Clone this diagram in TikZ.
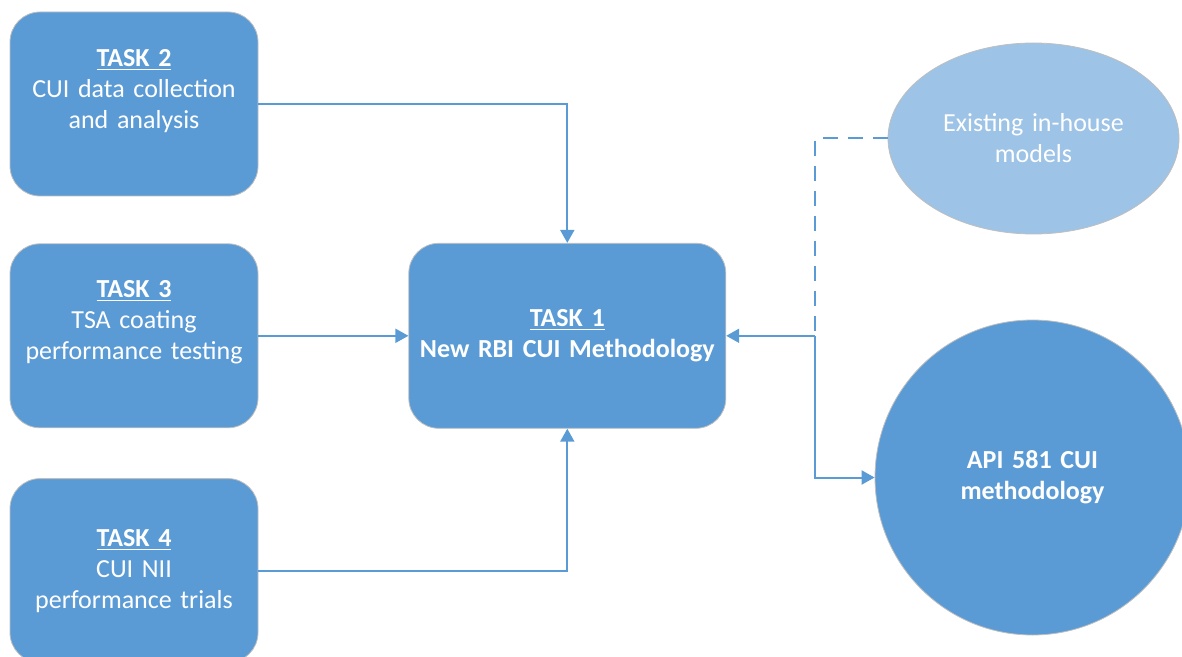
\documentclass[tikz,border=0pt]{standalone}
\usepackage{fontspec}
\setmainfont{Carlito}
\usepackage{tikz}
\usetikzlibrary{shapes,arrows.meta,positioning,calc}
\definecolor{taskblue}{HTML}{5B9BD5}
\definecolor{modelblue}{HTML}{9DC3E6}

\begin{document}
\begin{tikzpicture}[
    x=1pt, y=1pt,
    node distance=23.5pt and 75pt,
    >={Triangle[length=6.5pt,width=7pt]},
    task/.style={rectangle, rounded corners=15pt, draw=black!25, fill=taskblue, text=white, text width=120pt, align=center, minimum width=124pt, minimum height=92pt, inner sep=0pt, font=\fontsize{13}{15.5}\selectfont},
    main/.style={task, text width=155pt, minimum width=158.5pt, minimum height=92.5pt},
    model/.style={ellipse, draw=black!25, fill=modelblue, text=white, text width=95pt, align=center, minimum width=145.5pt, minimum height=95.5pt, inner sep=0pt, font=\fontsize{13}{15.5}\selectfont},
    api/.style={circle, draw=black!25, fill=taskblue, text=white, text width=110pt, align=center, minimum size=157.5pt, inner sep=0pt, font=\fontsize{13}{15.5}\selectfont\bfseries},
    link/.style={draw=taskblue, line width=1pt},
]
    \useasboundingbox (0,0) rectangle (591,-328.5);

    % Task boxes on the left
    \node[task] (task2) at (67,-52) {\underline{\textbf{TASK 2}}\\ CUI data collection\\ and analysis\\ ~};
    \node[task, below=of task2] (task3) {\underline{\textbf{TASK 3}}\\ TSA coating\\ performance testing\\ ~};
    \node[task, below=25pt of task3] (task4) {\underline{\textbf{TASK 4}}\\ CUI NII\\ performance trials};

    % Main task
    \node[main, right=of task3] (task1) {\underline{\textbf{TASK 1}}\\ \textbf{New RBI CUI Methodology}};

    % Models on the right
    \node[model] (inhouse) at (516.75,-69.25) {Existing in-house\\ models};
    \node[api] (api581) at (516.25,-238.75) {API 581 CUI\\ methodology};
    \coordinate[right=44.5pt of task1.east] (hub);

    \draw[link, ->] (task2.east) -| (task1.north);
    \draw[link, ->] (task3) -- (task1);
    \draw[link, ->] (task4.east) -| (task1.south);

    \draw[link, dash pattern=on 7.5pt off 5pt] (inhouse.west) -| (hub);
    \draw[link, ->] (hub) -- (task1.east);
    \draw[link, ->] (hub) |- (api581.west);

\end{tikzpicture}
\end{document}
